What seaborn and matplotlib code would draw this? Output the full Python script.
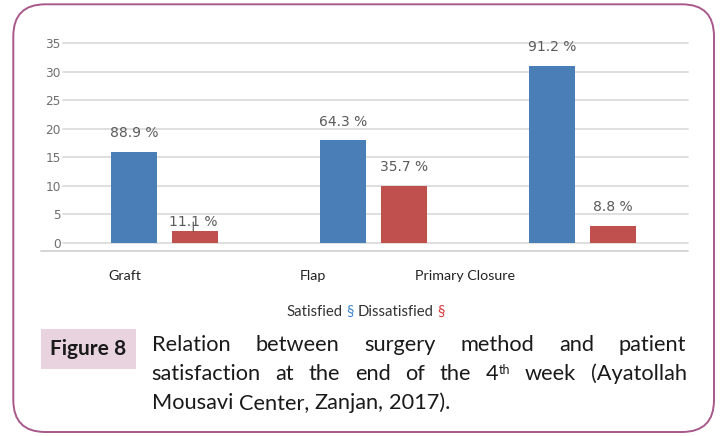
import matplotlib
matplotlib.use("Agg")
import matplotlib.pyplot as plt
import seaborn as sns
import pandas as pd
import numpy as np
from matplotlib.patches import FancyBboxPatch, Rectangle
from matplotlib.lines import Line2D
from matplotlib.transforms import IdentityTransform

# ---------------- data ----------------
methods = ["Graft", "Flap", "Primary Closure"]
series = ["Satisfied", "Dissatisfied"]
satisfied = [16, 18, 31]
dissatisfied = [2, 10, 3]
satisfied_pct = ["88.9 %", "64.3 %", "91.2 %"]
dissatisfied_pct = ["11.1 %", "35.7 %", "8.8 %"]
y_ticks = [0, 5, 10, 15, 20, 25, 30, 35]
legend_runs = [("Satisfied ", "#333333"), ("§", "#3f86cf"),
               (" Dissatisfied ", "#333333"), ("§", "#d83a3a")]
figure_label = "Figure 8"
caption_lines = [
    "Relation between surgery method and patient",
    "satisfaction at the end of the 4^th week (Ayatollah",
    "Mousavi Center, Zanjan, 2017).",
]
colors = {"Satisfied": "#4a7eb7", "Dissatisfied": "#c0504d"}

# ---------------- figure ----------------
sns.set_theme(style="white")
plt.rcParams["font.family"] = ["DejaVu Sans"]

W, H = 725, 436
fig = plt.figure(figsize=(W / 100, H / 100), dpi=100)
fig.patch.set_facecolor("white")


def fx(px):
    return px / W


def fy(py):
    return 1 - py / H


ax = fig.add_axes([fx(62.7), fy(251), fx(687.7) - fx(62.7), fy(43.3) - fy(251)])

df = pd.DataFrame({
    "method": methods * 2,
    "status": [series[0]] * len(methods) + [series[1]] * len(methods),
    "count": satisfied + dissatisfied,
})
sns.barplot(data=df, x="method", y="count", hue="status", hue_order=series,
            palette=colors, saturation=1, width=0.58, gap=0.24,
            legend=False, ax=ax, linewidth=0, errorbar=None)

ax.set_xlim(-0.488, 2.504)
ax.set_ylim(-1.46, 35)
ax.set_facecolor("white")
for s in ax.spines.values():
    s.set_visible(False)

ax.set_yticks(y_ticks)
ax.set_yticklabels([str(t) for t in y_ticks])
ax.tick_params(axis="y", length=0, pad=1.5, labelsize=8.7, labelcolor="#6e6e6e")
ax.yaxis.grid(True, color="#dcdcdc", lw=1.3)
ax.set_axisbelow(True)
for gl in ax.get_ygridlines():
    gl.set_clip_on(False)

label_pos = [i + s for i, s in zip(range(len(methods)), (-0.19, -0.29, -0.56))]
ax.set_xticks(label_pos)
ax.set_xticklabels(methods, fontfamily="Lato", fontsize=10.3, color="#222222")
ax.tick_params(axis="x", length=0, pad=14)
ax.set_xlabel("")
ax.set_ylabel("")

# bar value labels
for container, labels in zip(ax.containers, [satisfied_pct, dissatisfied_pct]):
    for i, (bar, lab) in enumerate(zip(container, labels)):
        x = bar.get_x() + bar.get_width() / 2
        h = bar.get_height()
        close = (container is ax.containers[1]) and i == 0
        if close:
            ax.annotate(lab, (x - 0.008, h), xytext=(0, 6.7), textcoords="offset points",
                        ha="center", va="center", fontsize=10, color="#5a5a5a",
                        arrowprops=dict(arrowstyle="-", color="#555555", lw=0.8,
                                        shrinkA=0, shrinkB=0))
        else:
            ax.annotate(lab, (x, h), xytext=(0, 13.4), textcoords="offset points",
                        ha="center", va="center", fontsize=10, color="#5a5a5a")

# bottom axis line
fig.add_artist(Line2D([40.7, 687.7], [H - 251, H - 251], transform=IdentityTransform(),
                      color="#d2d2d2", lw=1.3))

# ---------------- border ----------------
border = FancyBboxPatch((13.3, 4.0), 714 - 13.3, 431.7 - 4.0,
                        boxstyle="round,pad=0,rounding_size=32",
                        transform=IdentityTransform(), facecolor="none",
                        edgecolor="#a8588a", lw=1.4)
fig.add_artist(border)

fig.canvas.draw()
renderer = fig.canvas.get_renderer()


def text_w(s, size, weight="normal", family="Lato"):
    t = fig.text(0, 0, s, fontsize=size, fontweight=weight, fontfamily=family)
    w = t.get_window_extent(renderer).width
    t.remove()
    return w


def space_w(size, family="Lato"):
    return text_w("a a", size, family=family) - text_w("aa", size, family=family)


def prefix_w(prefix, size):
    # advance position after prefix (ink-independent via a marker glyph)
    if prefix == "":
        return 0.0
    return text_w(prefix + "l", size) - text_w("l", size)


# ---------------- legend line ----------------
leg_size = 10.7
full = "".join(s for s, _ in legend_runs)
total = text_w(full, leg_size)
x0 = 365.8 - total / 2
prefix = ""
for s, c in legend_runs:
    core = s.strip()
    lead = s[: len(s) - len(s.lstrip())]
    start = prefix_w(prefix + lead, leg_size)
    fig.text(fx(x0 + start), fy(316), core, fontsize=leg_size, fontfamily="Lato",
             color=c, ha="left", va="baseline")
    prefix += s

# ---------------- caption ----------------
fig.add_artist(Rectangle((41, H - 369), 136 - 41, 369 - 329, transform=IdentityTransform(),
                         facecolor="#e8d3df", edgecolor="none"))
fig.text(fx(88.5), fy(349), figure_label, fontsize=15, fontweight="bold", fontfamily="Lato",
         color="#1a1a1a", ha="center", va="center")

cap_size = 15.7
sup_size = 9
left, right = 151.7, 686.5
baselines = [350.7, 380.0, 409.3]


def word_parts(word):
    if "^" in word:
        base, sup = word.split("^")
        return [(base, cap_size, 0), (sup, sup_size, 6.5)]
    return [(word, cap_size, 0)]


for li, (line, base_y) in enumerate(zip(caption_lines, baselines)):
    words = line.split(" ")
    parts = [word_parts(w) for w in words]
    wwidths = [sum(text_w(p, sz) for p, sz, _ in ps) for ps in parts]
    if li < len(caption_lines) - 1:
        gap = (right - left - sum(wwidths)) / (len(words) - 1)
    else:
        gap = space_w(cap_size)
    x = left
    for ps, ww in zip(parts, wwidths):
        xx = x
        for p, sz, dy in ps:
            fig.text(fx(xx), fy(base_y - dy), p, fontsize=sz, fontfamily="Lato",
                     color="#1a1a1a", ha="left", va="baseline")
            xx += text_w(p, sz)
        x += ww + gap

fig.savefig("out.png", dpi=100)
